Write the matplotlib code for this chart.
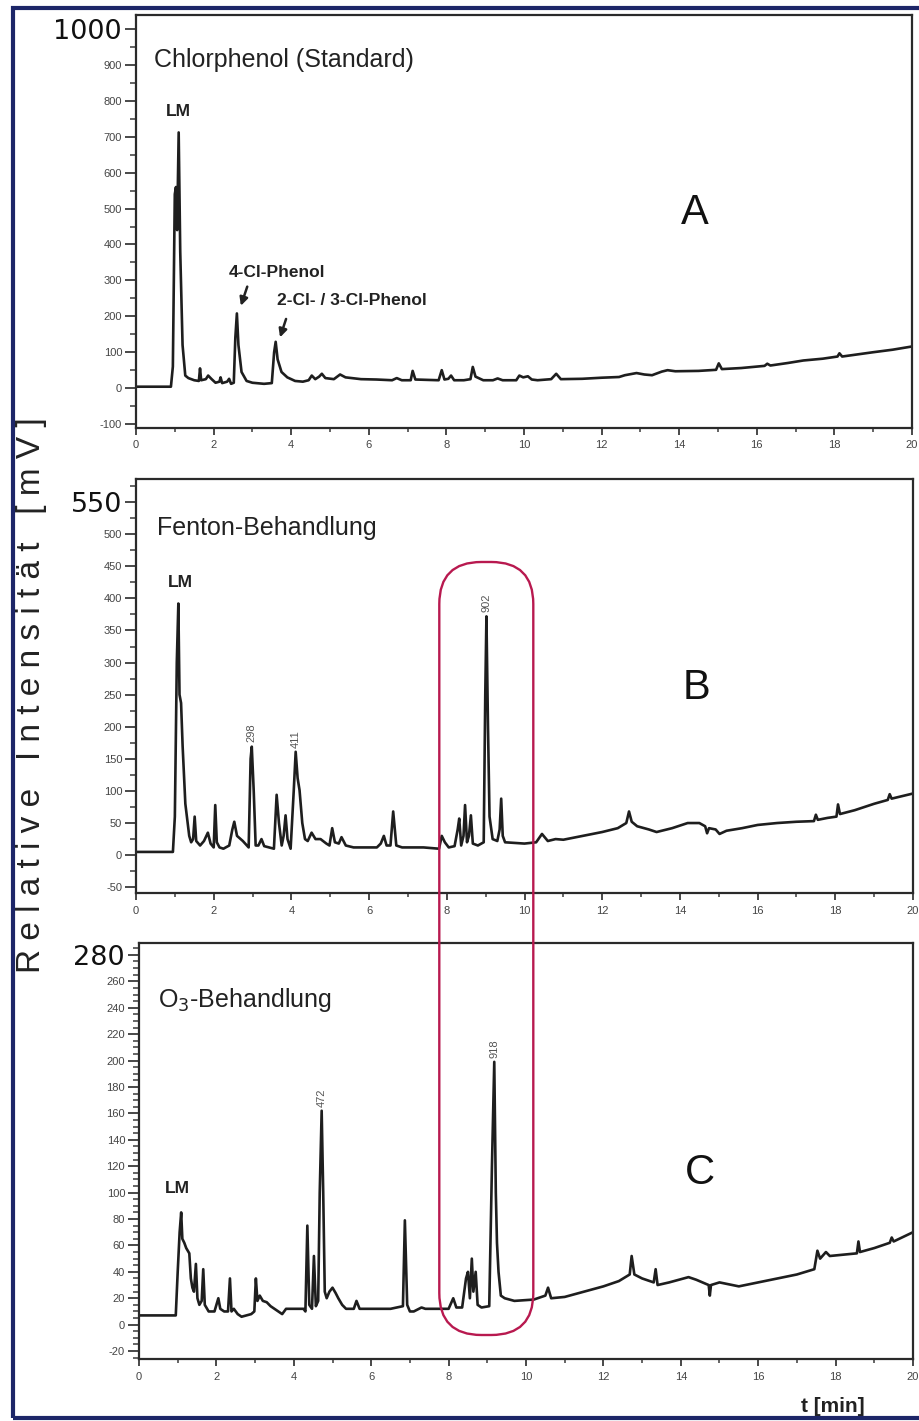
import matplotlib
matplotlib.use('Agg')
import matplotlib.pyplot as plt
from matplotlib.patches import FancyBboxPatch, Rectangle
from matplotlib.ticker import MultipleLocator

plt.rcParams['font.family'] = ['Liberation Sans', 'DejaVu Sans']

# ---------------- data ----------------
time_a = [0.00, 0.90, 0.95, 1.00, 1.03, 1.06, 1.10, 1.14, 1.20, 1.27, 1.35, 1.50, 1.62, 1.65, 1.68,
          1.80, 1.86, 1.95, 2.05, 2.15, 2.18, 2.22, 2.35, 2.40, 2.45, 2.52, 2.56, 2.60, 2.64, 2.72,
          2.85, 3.00, 3.30, 3.50, 3.56, 3.60, 3.65, 3.75, 3.90, 4.10, 4.30, 4.45, 4.53, 4.62, 4.72,
          4.79, 4.88, 5.10, 5.26, 5.40, 5.80, 6.20, 6.60, 6.72, 6.85, 7.08, 7.13, 7.20, 7.80, 7.88,
          7.95, 8.05, 8.12, 8.20, 8.45, 8.62, 8.68, 8.75, 8.95, 9.20, 9.32, 9.45, 9.80, 9.88, 9.98,
          10.10, 10.20, 10.35, 10.70, 10.83, 10.95, 11.50, 12.00, 12.45, 12.60, 12.90, 13.10, 13.30,
          13.55, 13.70, 13.90, 14.50, 14.95, 15.02, 15.10, 15.60, 16.00, 16.20, 16.27, 16.35, 16.80,
          17.20, 17.70, 18.08, 18.13, 18.20, 18.60, 19.00, 19.50, 20.00]
signal_a = [4, 4, 60, 540, 560, 440, 712, 380, 120, 35, 28, 22, 20, 55, 22,
            25, 35, 25, 15, 18, 30, 14, 18, 26, 12, 15, 140, 208, 120, 45,
            20, 15, 12, 14, 100, 129, 80, 45, 30, 20, 18, 22, 35, 25, 32,
            40, 28, 25, 38, 30, 25, 24, 22, 28, 22, 22, 48, 24, 22, 50,
            24, 26, 35, 22, 22, 25, 59, 32, 22, 22, 27, 22, 22, 35, 30,
            33, 24, 22, 25, 40, 25, 26, 29, 31, 36, 42, 38, 36,
            46, 50, 47, 48, 51, 69, 53, 56, 60, 62, 68, 63, 70,
            77, 82, 88, 97, 88, 94, 100, 107, 116]

time_b = [0.00, 0.95, 1.00, 1.05, 1.09, 1.12, 1.16, 1.20, 1.27, 1.32, 1.37, 1.42, 1.47, 1.51, 1.55,
          1.65, 1.75, 1.85, 1.92, 2.00, 2.04, 2.08, 2.15, 2.25, 2.40, 2.48, 2.53, 2.60, 2.75, 2.90,
          2.95, 2.98, 3.03, 3.08, 3.15, 3.23, 3.30, 3.55, 3.62, 3.68, 3.75, 3.80, 3.85, 3.90, 3.98,
          4.06, 4.11, 4.16, 4.21, 4.28, 4.35, 4.42, 4.52, 4.62, 4.75, 4.90, 4.98, 5.05, 5.12, 5.22,
          5.29, 5.40, 5.60, 6.20, 6.30, 6.38, 6.45, 6.55, 6.62, 6.70, 6.85, 7.40, 7.80, 7.87, 7.95,
          8.05, 8.20, 8.28, 8.32, 8.37, 8.43, 8.47, 8.52, 8.57, 8.62, 8.67, 8.80, 8.95, 8.99, 9.02,
          9.06, 9.10, 9.18, 9.30, 9.36, 9.40, 9.44, 9.50, 10.00, 10.30, 10.45, 10.60, 10.80, 11.00,
          11.50, 12.00, 12.40, 12.62, 12.69, 12.76, 12.90, 13.20, 13.40, 13.80, 14.20, 14.50, 14.65,
          14.70, 14.75, 14.92, 15.02, 15.20, 15.60, 16.00, 16.50, 17.00, 17.45, 17.50, 17.55, 17.80,
          18.03, 18.07, 18.12, 18.50, 19.00, 19.35, 19.40, 19.45, 20.00]
signal_b = [5, 5, 60, 300, 392, 250, 237, 170, 80, 55, 30, 20, 25, 60, 22,
            15, 22, 35, 18, 12, 78, 20, 12, 10, 15, 40, 52, 30, 22, 12,
            150, 169, 100, 15, 15, 25, 14, 10, 94, 50, 15, 30, 62, 25, 10,
            100, 161, 120, 101, 50, 25, 22, 35, 25, 25, 18, 15, 42, 20, 18,
            28, 15, 12, 12, 18, 30, 15, 15, 68, 15, 12, 12, 10, 30, 20,
            12, 14, 40, 57, 15, 30, 78, 20, 30, 62, 18, 15, 20, 250, 372,
            200, 60, 25, 22, 40, 88, 30, 20, 18, 20, 33, 22, 25, 24,
            30, 36, 42, 50, 68, 52, 45, 40, 36, 42, 50, 50, 45,
            34, 42, 40, 33, 38, 42, 47, 50, 52, 53, 63, 55, 58,
            60, 79, 64, 70, 80, 86, 95, 88, 96]

time_c = [0.00, 0.95, 1.00, 1.05, 1.09, 1.12, 1.17, 1.22, 1.30, 1.34, 1.38, 1.42, 1.47, 1.51, 1.56,
          1.62, 1.66, 1.70, 1.80, 1.95, 2.00, 2.05, 2.10, 2.20, 2.30, 2.35, 2.39, 2.45, 2.55, 2.65,
          2.90, 2.98, 3.02, 3.06, 3.12, 3.20, 3.30, 3.40, 3.50, 3.60, 3.70, 3.80, 4.25, 4.30, 4.35,
          4.40, 4.47, 4.52, 4.57, 4.63, 4.67, 4.72, 4.76, 4.80, 4.85, 4.92, 5.00, 5.08, 5.15, 5.25,
          5.35, 5.55, 5.62, 5.70, 6.00, 6.50, 6.82, 6.87, 6.93, 7.00, 7.10, 7.30, 7.40, 8.00, 8.12,
          8.20, 8.35, 8.45, 8.50, 8.55, 8.60, 8.64, 8.70, 8.75, 8.85, 9.05, 9.12, 9.18, 9.22, 9.25,
          9.29, 9.35, 9.45, 9.70, 10.20, 10.50, 10.57, 10.65, 11.00, 11.50, 12.00, 12.40, 12.68, 12.73,
          12.80, 13.00, 13.30, 13.35, 13.40, 13.70, 14.20, 14.40, 14.72, 14.75, 14.78, 15.00, 15.50,
          16.00, 16.50, 17.00, 17.45, 17.53, 17.60, 17.75, 17.85, 18.20, 18.55, 18.59, 18.63, 19.00,
          19.40, 19.45, 19.50, 20.00]
signal_c = [7, 7, 40, 70, 85, 65, 62, 58, 54, 35, 28, 25, 46, 20, 15,
            18, 42, 15, 10, 10, 15, 20, 12, 10, 10, 35, 10, 12, 8, 6,
            8, 10, 35, 18, 22, 18, 17, 14, 12, 10, 8, 12, 12, 10, 75,
            15, 12, 52, 14, 18, 100, 162, 100, 25, 20, 25, 28, 24, 20, 15,
            12, 12, 18, 12, 12, 12, 14, 79, 15, 10, 10, 13, 12, 12, 20,
            13, 13, 35, 40, 20, 50, 25, 40, 15, 13, 14, 120, 199, 100, 62,
            40, 22, 20, 18, 19, 22, 28, 20, 21, 25, 29, 33, 38, 52,
            38, 35, 32, 42, 30, 32, 36, 34, 30, 22, 30, 32, 29,
            32, 35, 38, 42, 56, 50, 55, 52, 53, 54, 63, 55, 58,
            62, 66, 63, 70]

peaks_b = [(2.98, 169, '298'), (4.11, 161, '411'), (9.02, 372, '902')]
peaks_c = [(4.72, 162, '472'), (9.18, 199, '918')]

yticks_a = list(range(-100, 1001, 100))
yticks_b = list(range(-50, 551, 50))
yticks_c = list(range(-20, 281, 20))
xticks = list(range(0, 21, 2))

# ---------------- figure ----------------
W, H = 919, 1421
fig = plt.figure(figsize=(W / 100, H / 100), dpi=100)
fig.patch.set_facecolor('white')


def px_axes(left, top, right, bottom):
    return fig.add_axes([left / W, 1 - bottom / H, (right - left) / W, (bottom - top) / H])


ax_a = px_axes(136, 15, 912, 428)
ax_b = px_axes(136, 479, 913, 893)
ax_c = px_axes(139, 943, 913, 1359)

line_col = '#1e1e1e'
tick_col = '#3a3a3a'

setup = [
    (ax_a, time_a, signal_a, (-111, 1039), yticks_a, 50),
    (ax_b, time_b, signal_b, (-59, 586), yticks_b, 25),
    (ax_c, time_c, signal_c, (-26, 289), yticks_c, 5),
]

for ax, t, s, ylim, yt, yminor in setup:
    ax.plot(t, s, color=line_col, lw=1.9, solid_joinstyle='round')
    ax.set_xlim(0, 20)
    ax.set_ylim(*ylim)
    ax.set_xticks(xticks)
    ax.set_xticklabels([str(v) for v in xticks])
    ax.xaxis.set_minor_locator(MultipleLocator(1))
    ax.set_yticks(yt)
    ax.set_yticklabels([str(v) for v in yt])
    ax.yaxis.set_minor_locator(MultipleLocator(yminor))
    ax.tick_params(axis='y', which='major', direction='out', length=8, width=1.3,
                   labelsize=8, colors=tick_col, pad=2)
    ax.tick_params(axis='y', which='minor', direction='out', length=4, width=1.1, colors=tick_col)
    ax.tick_params(axis='x', which='major', direction='out', length=5, width=1.3,
                   labelsize=8, colors=tick_col, pad=4)
    ax.tick_params(axis='x', which='minor', direction='out', length=3, width=1.1, colors=tick_col)
    for sp in ax.spines.values():
        sp.set_linewidth(1.6)
        sp.set_color('#2a2a2a')
    labs = ax.get_yticklabels()
    labs[-1].set_fontsize(19.5)
    labs[-1].set_family('DejaVu Sans')
    labs[-1].set_color('#111111')
    for lab in ax.get_xticklabels() + labs[:-1]:
        lab.set_color('#444444')

# Panel A annotations
ax_a.text(0.46, 914, 'Chlorphenol (Standard)', fontsize=18, color='#222', va='center', ha='left')
ax_a.text(1.08, 769, 'LM', fontsize=12.5, fontweight='bold', color='#222', ha='center', va='center')
ax_a.text(3.63, 323, '4-Cl-Phenol', fontsize=12.5, fontweight='bold', color='#222', ha='center', va='center')
ax_a.text(5.57, 245, '2-Cl- / 3-Cl-Phenol', fontsize=12.5, fontweight='bold', color='#222',
          ha='center', va='center')
ax_a.annotate('', xy=(2.68, 222), xytext=(2.89, 290),
              arrowprops=dict(arrowstyle='-|>', color='#222', lw=1.8, mutation_scale=12))
ax_a.annotate('', xy=(3.69, 134), xytext=(3.89, 200),
              arrowprops=dict(arrowstyle='-|>', color='#222', lw=1.8, mutation_scale=12))
ax_a.text(14.4, 487, 'A', fontsize=30, color='#111', ha='center', va='center')

# Panel B annotations
ax_b.text(0.54, 510, 'Fenton-Behandlung', fontsize=18, color='#222', va='center', ha='left')
ax_b.text(1.13, 424, 'LM', fontsize=12.5, fontweight='bold', color='#222', ha='center', va='center')
ax_b.text(14.44, 260, 'B', fontsize=30, color='#111', ha='center', va='center')
for pt, pv, lab in peaks_b:
    ax_b.annotate(lab, xy=(pt, pv), xytext=(0, 3), textcoords='offset points', rotation=90,
                  ha='center', va='bottom', fontsize=8, color='#555')

# Panel C annotations
ax_c.text(0.49, 246, 'O$_3$-Behandlung', fontsize=18, color='#222', va='center', ha='left')
ax_c.text(1.0, 103, 'LM', fontsize=12.5, fontweight='bold', color='#222', ha='center', va='center')
ax_c.text(14.5, 115, 'C', fontsize=30, color='#111', ha='center', va='center')
for pt, pv, lab in peaks_c:
    ax_c.annotate(lab, xy=(pt, pv), xytext=(0, 3), textcoords='offset points', rotation=90,
                  ha='center', va='bottom', fontsize=8, color='#555')

# Shared y label (letter spaced) and x label
ylabel = 'R e l a t i v e   I n t e n s i t ä t   [ m V ]'
fig.text(32 / W, 1 - 695 / H, ylabel, rotation=90, fontsize=24, color='#222',
         ha='center', va='center')
fig.text(833 / W, 1 - 1407 / H, 't [min]', fontsize=15, fontweight='bold', color='#222',
         ha='center', va='center')

# Red rounded highlight box spanning panels B and C
box = FancyBboxPatch((4.393, (H - 1335) / 100), 0.94, (1335 - 562) / 100,
                     boxstyle='round,pad=0,rounding_size=0.42',
                     transform=fig.dpi_scale_trans, fill=False, ec='#b8194f', lw=1.7, zorder=20)
fig.add_artist(box)

# Navy outer frame
frame = Rectangle((13 / W, (H - 1418) / H), (W + 20 - 13) / W, (1418 - 8) / H,
                  transform=fig.transFigure, fill=False, ec='#1d2668', lw=3, clip_on=False, zorder=30)
fig.add_artist(frame)

fig.savefig('out.png', dpi=100, facecolor='white')
